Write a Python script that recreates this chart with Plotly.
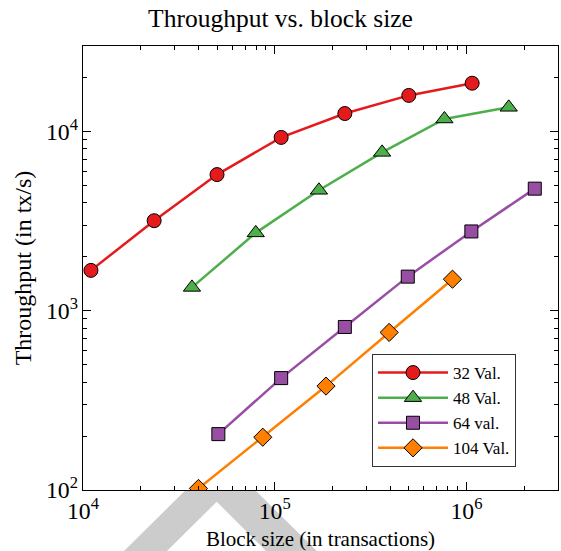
import math
import plotly.graph_objects as go

# ---- data ----
x_32 = [1.1e4, 2.35e4, 5.0e4, 1.08e5, 2.32e5, 5.0e5, 1.07e6]
y_32 = [1680, 3180, 5750, 9270, 12600, 15900, 18600]

x_48 = [3.7e4, 7.96e4, 1.70e5, 3.63e5, 7.67e5, 1.66e6]
y_48 = [1350, 2720, 4700, 7650, 11750, 13650]

x_64 = [5.08e4, 1.08e5, 2.32e5, 4.94e5, 1.06e6, 2.27e6]
y_64 = [205, 421, 812, 1550, 2770, 4800]

x_104 = [4.0e4, 8.66e4, 1.85e5, 3.95e5, 8.45e5]
y_104 = [102, 197, 380, 757, 1500]

series_names = ["32 Val.", "48 Val.", "64 val.", "104 Val."]
colors = ["#e41a1c", "#4daf4a", "#984ea3", "#ff7f00"]
symbols = ["circle", "triangle-up", "square", "diamond"]
sizes = [14, 15, 13, 14]

W, H = 561, 551
L, R, T, B = 83, 3, 46, 61
PW, PH = W - L - R, H - T - B

fig = go.Figure()
for xs, ys, name, c, s, sz in zip([x_32, x_48, x_64, x_104], [y_32, y_48, y_64, y_104],
                                  series_names, colors, symbols, sizes):
    fig.add_trace(go.Scatter(
        x=xs, y=ys, name=name, mode="lines+markers",
        line=dict(color=c, width=2.5),
        marker=dict(symbol=s, size=sz, color=c, line=dict(color="black", width=1)),
    ))

# grey watermark (decoration below the plot area)
def px(x, y):
    return (x - L) / PW, (H - B - y) / PH

pts = [(124, 551), (185.7, 490), (255, 490), (316.7, 551), (266, 551), (216.7, 501.7), (167, 551)]
path = "M " + " L ".join(f"{px(a, b)[0]:.4f},{px(a, b)[1]:.4f}" for a, b in pts) + " Z"
fig.add_shape(type="path", path=path, xref="paper", yref="paper",
              fillcolor="#cccccc", line=dict(width=0), layer="below")

font_family = "Liberation Serif"
axis_common = dict(
    type="log", showgrid=False, zeroline=False, automargin=False,
    showline=True, linecolor="black", linewidth=1.3, mirror="allticks",
    ticks="inside", ticklen=8, tickwidth=1, tickcolor="black",
    dtick=1, exponentformat="power", showexponent="all",
    minor=dict(ticks="inside", ticklen=4, tickwidth=1, tickcolor="black", dtick="D1", showgrid=False),
    tickfont=dict(family=font_family, size=19, color="black"),
)

fig.update_layout(
    width=W, height=H,
    margin=dict(l=L, r=R, t=T, b=B),
    paper_bgcolor="white", plot_bgcolor="white",
    font=dict(family=font_family, color="black"),
    title=dict(text="Throughput vs. block size", x=0.5, xanchor="center",
               y=1 - 18 / H, yanchor="middle", yref="container",
               font=dict(family=font_family, size=25.5, color="black")),
    xaxis=dict(range=[4, math.log10(3e6)],
               title=dict(text="Block size (in transactions)", standoff=10,
                          font=dict(family=font_family, size=21)),
               **axis_common),
    yaxis=dict(range=[2, math.log10(3e4)],
               title=dict(text="Throughput (in tx/s)", standoff=7,
                          font=dict(family=font_family, size=24)),
               **axis_common),
    legend=dict(x=(372 - L) / PW, y=(H - B - 467) / PH, xanchor="left", yanchor="bottom",
                bgcolor="white", bordercolor="#333333", borderwidth=1,
                itemwidth=70,
                font=dict(family=font_family, size=17, color="black")),
    showlegend=True,
)

fig.write_html("out.html",
               config={"displayModeBar": False},
               post_script="document.body.style.margin='0';document.body.style.overflow='hidden';")
